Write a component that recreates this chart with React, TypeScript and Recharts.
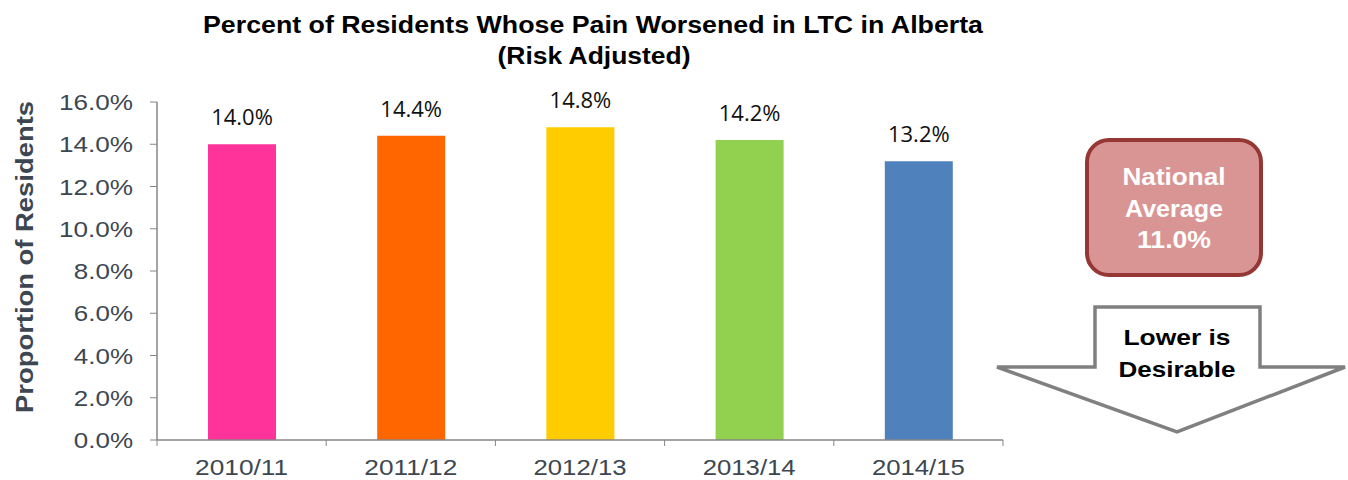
import React from "react";
import { BarChart, Bar, XAxis, YAxis, Cell, LabelList } from "recharts";

const years = ["2010/11", "2011/12", "2012/13", "2013/14", "2014/15"];
const painWorsened = [14.0, 14.4, 14.8, 14.2, 13.2];
const barColors = ["#FF3399", "#FF6600", "#FFCC00", "#92D050", "#4F81BD"];
const yTicks = [0, 2, 4, 6, 8, 10, 12, 14, 16];
const nationalAverage = 11.0;

const data = years.map((year, i) => ({ year, value: painWorsened[i] }));

const FONT = '"Liberation Sans", Arial, sans-serif';
const AXIS_GREY = "#868686";
const TEXT_GREY = "#3d4751";

const pct = (v: number) => `${v.toFixed(1)}%`;

// category tick: label in the centre, tick marks on the category edges
const YearTick = (props: any) => {
  const { x, y, payload, index } = props;
  const half = payload.offset || 0;
  const top = y - 8;
  return (
    <g>
      <line x1={x - half} y1={top} x2={x - half} y2={top + 6} stroke={AXIS_GREY} />
      {index === years.length - 1 && (
        <line x1={x + half} y1={top} x2={x + half} y2={top + 6} stroke={AXIS_GREY} />
      )}
      <text
        x={x}
        y={y + 26.5}
        textAnchor="middle"
        fontSize={22}
        fill={TEXT_GREY}
        fontFamily={FONT}
        textLength={93}
        lengthAdjust="spacingAndGlyphs"
      >
        {payload.value}
      </text>
    </g>
  );
};

const PctTick = (props: any) => {
  const { x, y, payload } = props;
  const label = pct(payload.value);
  return (
    <text
      x={x}
      y={y + 8}
      textAnchor="end"
      fontSize={22}
      fill={TEXT_GREY}
      fontFamily={FONT}
      textLength={label.length * 14.8}
      lengthAdjust="spacingAndGlyphs"
    >
      {label}
    </text>
  );
};

const YLabel = (props: any) => {
  const { viewBox } = props;
  const cx = 33;
  const cy = viewBox.y + viewBox.height / 2 - 14;
  return (
    <text
      x={cx}
      y={cy}
      transform={`rotate(-90 ${cx} ${cy})`}
      textAnchor="middle"
      fontSize={23}
      fontWeight="bold"
      fill={TEXT_GREY}
      fontFamily={FONT}
      textLength={312}
      lengthAdjust="spacingAndGlyphs"
    >
      Proportion of Residents
    </text>
  );
};

const App: React.FC = () => {
  return (
    <div
      style={{
        position: "absolute",
        left: 0,
        top: 0,
        width: 1348,
        height: 480,
        background: "#fff",
        fontFamily: FONT,
      }}
    >
      <BarChart
        width={1348}
        height={480}
        data={data}
        margin={{ top: 102, right: 345, left: 0, bottom: 0 }}
        barCategoryGap={0}
      >
        <XAxis
          dataKey="year"
          height={40}
          tickLine={false}
          axisLine={{ stroke: AXIS_GREY, strokeWidth: 1.5 }}
          tick={<YearTick />}
          interval={0}
        />
        <YAxis
          width={157}
          domain={[0, 16]}
          ticks={yTicks}
          tickSize={7}
          tickMargin={17}
          tickLine={{ stroke: AXIS_GREY }}
          axisLine={{ stroke: AXIS_GREY, strokeWidth: 1.5 }}
          tick={<PctTick />}
          label={{ content: <YLabel /> }}
        />
        <Bar dataKey="value" barSize={68} isAnimationActive={false}>
          {data.map((d, i) => (
            <Cell key={d.year} fill={barColors[i]} />
          ))}
          <LabelList
            dataKey="value"
            position="top"
            offset={19}
            formatter={(v: any) => pct(Number(v))}
            style={{ fontSize: 22, fill: "#111", fontFamily: '"Open Sans", sans-serif' }}
          />
        </Bar>
      </BarChart>

      {/* title, national average box and the "lower is desirable" arrow */}
      <svg
        width={1348}
        height={480}
        style={{ position: "absolute", left: 0, top: 0, pointerEvents: "none" }}
        fontFamily={FONT}
      >
        <text
          x={593}
          y={33}
          textAnchor="middle"
          fontSize={23}
          fontWeight="bold"
          fill="#000"
          textLength={780}
          lengthAdjust="spacingAndGlyphs"
        >
          Percent of Residents Whose Pain Worsened in LTC in Alberta
        </text>
        <text
          x={594}
          y={64}
          textAnchor="middle"
          fontSize={23}
          fontWeight="bold"
          fill="#000"
          textLength={193}
          lengthAdjust="spacingAndGlyphs"
        >
          (Risk Adjusted)
        </text>

        <rect
          x={1087}
          y={140}
          width={174}
          height={135}
          rx={22}
          fill="#D99594"
          stroke="#953735"
          strokeWidth={4}
        />
        <g textAnchor="middle" fontSize={23} fontWeight="bold" fill="#fff">
          <text x={1174} y={185} textLength={103} lengthAdjust="spacingAndGlyphs">
            National
          </text>
          <text x={1174} y={217} textLength={98} lengthAdjust="spacingAndGlyphs">
            Average
          </text>
          <text x={1174} y={248} textLength={74} lengthAdjust="spacingAndGlyphs">
            {pct(nationalAverage)}
          </text>
        </g>

        <polygon
          points="1095,307 1260,307 1260,367 1345,367 1177,432 997,367 1095,367"
          fill="#fff"
          stroke="#808080"
          strokeWidth={3.5}
        />
        <g textAnchor="middle" fontSize={22} fontWeight="bold" fill="#000">
          <text x={1177} y={345} textLength={107} lengthAdjust="spacingAndGlyphs">
            Lower is
          </text>
          <text x={1177} y={377} textLength={117} lengthAdjust="spacingAndGlyphs">
            Desirable
          </text>
        </g>
      </svg>
    </div>
  );
};

export default App;
